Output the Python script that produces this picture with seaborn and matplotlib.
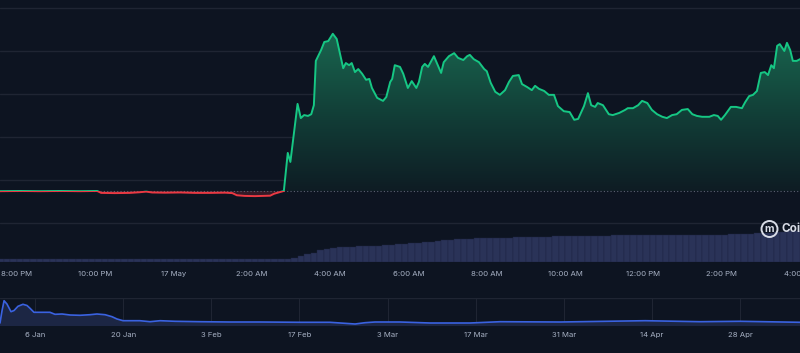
import numpy as np
import pandas as pd
import matplotlib
matplotlib.use("Agg")
import matplotlib.pyplot as plt
import matplotlib.dates as mdates
from matplotlib.patches import Rectangle, Ellipse
import seaborn as sns

# ---------------------------------------------------------------
# Data
# ---------------------------------------------------------------
price_time = [
    "2025-05-16 19:34", "2025-05-16 20:05", "2025-05-16 20:35", "2025-05-16 21:06",
    "2025-05-16 21:37", "2025-05-16 22:03", "2025-05-16 22:09", "2025-05-16 22:30",
    "2025-05-16 22:53", "2025-05-16 23:08", "2025-05-16 23:18", "2025-05-16 23:27",
    "2025-05-16 23:47", "2025-05-17 00:10", "2025-05-17 00:33", "2025-05-17 00:56",
    "2025-05-17 01:19", "2025-05-17 01:30", "2025-05-17 01:37", "2025-05-17 01:49",
    "2025-05-17 02:05", "2025-05-17 02:20", "2025-05-17 02:28", "2025-05-17 02:34",
    "2025-05-17 02:43", "2025-05-17 02:49", "2025-05-17 02:55", "2025-05-17 02:59",
    "2025-05-17 03:10", "2025-05-17 03:15", "2025-05-17 03:20", "2025-05-17 03:26",
    "2025-05-17 03:31", "2025-05-17 03:35", "2025-05-17 03:38", "2025-05-17 03:46",
    "2025-05-17 03:51", "2025-05-17 03:57", "2025-05-17 04:04", "2025-05-17 04:10",
    "2025-05-17 04:20", "2025-05-17 04:24", "2025-05-17 04:29", "2025-05-17 04:33",
    "2025-05-17 04:38", "2025-05-17 04:43", "2025-05-17 04:49", "2025-05-17 04:55",
    "2025-05-17 05:00", "2025-05-17 05:04", "2025-05-17 05:12", "2025-05-17 05:21",
    "2025-05-17 05:26", "2025-05-17 05:32", "2025-05-17 05:35", "2025-05-17 05:39",
    "2025-05-17 05:47", "2025-05-17 05:52", "2025-05-17 05:59", "2025-05-17 06:05",
    "2025-05-17 06:12", "2025-05-17 06:16", "2025-05-17 06:21", "2025-05-17 06:25",
    "2025-05-17 06:30", "2025-05-17 06:39", "2025-05-17 06:50", "2025-05-17 06:54",
    "2025-05-17 07:02", "2025-05-17 07:10", "2025-05-17 07:16", "2025-05-17 07:24",
    "2025-05-17 07:30", "2025-05-17 07:34", "2025-05-17 07:40", "2025-05-17 07:48",
    "2025-05-17 07:56", "2025-05-17 08:00", "2025-05-17 08:06", "2025-05-17 08:13",
    "2025-05-17 08:20", "2025-05-17 08:28", "2025-05-17 08:34", "2025-05-17 08:40",
    "2025-05-17 08:49", "2025-05-17 08:54", "2025-05-17 09:02", "2025-05-17 09:09",
    "2025-05-17 09:14", "2025-05-17 09:20", "2025-05-17 09:28", "2025-05-17 09:35",
    "2025-05-17 09:43", "2025-05-17 09:49", "2025-05-17 09:58", "2025-05-17 10:07",
    "2025-05-17 10:14", "2025-05-17 10:20", "2025-05-17 10:29", "2025-05-17 10:35",
    "2025-05-17 10:40", "2025-05-17 10:46", "2025-05-17 10:50", "2025-05-17 10:58",
    "2025-05-17 11:07", "2025-05-17 11:13", "2025-05-17 11:23", "2025-05-17 11:32",
    "2025-05-17 11:36", "2025-05-17 11:44", "2025-05-17 11:52", "2025-05-17 11:58",
    "2025-05-17 12:06", "2025-05-17 12:13", "2025-05-17 12:21", "2025-05-17 12:29",
    "2025-05-17 12:36", "2025-05-17 12:44", "2025-05-17 12:51", "2025-05-17 12:59",
    "2025-05-17 13:08", "2025-05-17 13:15", "2025-05-17 13:22", "2025-05-17 13:30",
    "2025-05-17 13:41", "2025-05-17 13:48", "2025-05-17 13:54", "2025-05-17 13:59",
    "2025-05-17 14:05", "2025-05-17 14:14", "2025-05-17 14:22", "2025-05-17 14:31",
    "2025-05-17 14:36", "2025-05-17 14:42", "2025-05-17 14:48", "2025-05-17 14:54",
    "2025-05-17 15:00", "2025-05-17 15:06", "2025-05-17 15:11", "2025-05-17 15:16",
    "2025-05-17 15:20", "2025-05-17 15:25", "2025-05-17 15:29", "2025-05-17 15:36",
    "2025-05-17 15:40", "2025-05-17 15:45", "2025-05-17 15:49", "2025-05-17 15:55",
    "2025-05-17 16:00",
]
price = [
    7.40, 7.45, 7.40, 7.45, 7.40, 7.45, 7.00, 6.95, 7.00, 7.15, 7.30, 7.10,
    7.05, 7.10, 7.00, 7.00, 7.05, 6.95, 6.45, 6.30, 6.25, 6.30, 6.35, 6.80,
    7.20, 7.45, 16.3, 14.2, 27.7, 24.4, 25.1, 24.9, 25.3, 27.4, 37.7, 40.2,
    42.1, 42.3, 44.0, 42.8, 36.0, 37.2, 36.7, 37.2, 35.1, 35.8, 34.7, 33.3,
    33.5, 31.4, 29.1, 28.4, 29.3, 32.8, 33.5, 36.7, 36.3, 34.7, 31.4, 33.0,
    31.4, 32.8, 36.3, 37.0, 36.3, 38.8, 34.9, 37.4, 38.8, 39.5, 38.4, 37.9,
    38.8, 39.1, 38.1, 37.4, 35.8, 35.3, 32.6, 30.5, 29.8, 30.9, 32.8, 34.2,
    34.4, 32.3, 31.6, 30.9, 31.9, 31.2, 30.7, 29.8, 29.8, 27.2, 26.0, 25.8,
    24.0, 24.2, 27.2, 30.2, 27.4, 27.0, 27.9, 27.4, 25.3, 25.1, 25.6, 26.3,
    26.7, 26.7, 27.4, 28.4, 27.9, 26.3, 25.3, 24.7, 24.4, 25.1, 25.3, 26.3,
    26.5, 25.3, 24.9, 24.7, 24.7, 25.1, 24.9, 24.0, 25.1, 27.0, 27.0, 26.7,
    28.1, 29.5, 29.8, 30.7, 34.9, 35.1, 34.4, 36.7, 36.0, 41.2, 41.6, 40.0,
    41.9, 40.2, 37.7, 37.7, 38.1,
]
open_price = 7.44
price_ticks = [0, 10, 20, 30, 40, 50]

# volume, one bar per 10 minutes starting 19:30
volume = [
    29, 29, 29, 30, 30, 30, 30, 30, 30, 30, 30, 30, 30, 30, 30, 30, 30, 30, 30, 30,
    30, 30, 30, 30, 30, 30, 30, 30, 30, 30, 30, 31, 31, 31, 31, 31, 31, 31, 31, 31,
    31, 31, 31, 31, 32,
    45, 65, 80, 95, 120, 135, 145, 150, 152, 155, 156, 158, 160, 163, 166, 170,
    176, 183, 190, 195, 200, 205, 212, 218, 225, 228, 232, 235, 237, 239, 240,
    241, 243, 245, 247, 249, 250, 252, 253, 255, 257, 259, 260, 261, 262, 263,
    264, 265, 265, 267, 268, 270, 270, 270, 270, 271, 271, 271, 272, 272, 272,
    272, 273, 273, 274, 274, 275, 276, 278, 280, 283, 287, 290, 294, 298, 302,
    306, 310,
]
volume_start = "2025-05-16 19:30"

main_ticks = ["2025-05-16 20:00", "2025-05-16 22:00", "2025-05-17 00:00",
              "2025-05-17 02:00", "2025-05-17 04:00", "2025-05-17 06:00",
              "2025-05-17 08:00", "2025-05-17 10:00", "2025-05-17 12:00",
              "2025-05-17 14:00", "2025-05-17 16:00"]
main_tick_labels = ["8:00 PM", "10:00 PM", "17 May", "2:00 AM", "4:00 AM", "6:00 AM",
                    "8:00 AM", "10:00 AM", "12:00 PM", "2:00 PM", "4:00 PM"]

nav_time = [
    "2024-12-31 10:30", "2024-12-31 18:00", "2025-01-01 02:00", "2025-01-01 13:00",
    "2025-01-02 04:30", "2025-01-02 16:00", "2025-01-03 07:00", "2025-01-04 02:00",
    "2025-01-04 17:30", "2025-01-05 05:00", "2025-01-05 20:00", "2025-01-06 19:00",
    "2025-01-08 09:00", "2025-01-09 04:00", "2025-01-10 07:00", "2025-01-11 13:30",
    "2025-01-13 03:30", "2025-01-14 18:00", "2025-01-15 20:00", "2025-01-17 03:00",
    "2025-01-18 05:30", "2025-01-19 00:30", "2025-01-19 23:30", "2025-01-22 16:00",
    "2025-01-24 06:30", "2025-01-25 20:30", "2025-01-28 06:00", "2025-02-01 05:00",
    "2025-02-05 23:30", "2025-02-10 18:00", "2025-02-17 02:30", "2025-02-21 20:30",
    "2025-02-25 20:00", "2025-02-27 10:00", "2025-03-01 00:00", "2025-03-04 23:30",
    "2025-03-09 18:00", "2025-03-16 02:30", "2025-03-20 21:00", "2025-03-30 09:30",
    "2025-04-12 21:30", "2025-04-21 14:30", "2025-04-28 00:00", "2025-05-07 12:00",
]
nav_price = [
    3.0, 15.0, 25.3, 22.0, 14.3, 15.5, 19.7, 21.7, 20.5, 17.7, 13.7, 13.7,
    13.7, 11.7, 12.0, 11.0, 10.7, 11.3, 12.0, 11.3, 9.3, 7.0, 5.3, 5.3,
    4.3, 5.3, 4.7, 4.3, 4.0, 4.0, 3.7, 3.7, 2.0, 3.3, 4.0, 4.0,
    3.0, 3.0, 4.3, 4.0, 5.3, 4.3, 4.7, 3.7,
]
nav_ticks = ["2025-01-06", "2025-01-20", "2025-02-03", "2025-02-17", "2025-03-03",
             "2025-03-17", "2025-03-31", "2025-04-14", "2025-04-28"]
nav_tick_labels = ["6 Jan", "20 Jan", "3 Feb", "17 Feb", "3 Mar",
                   "17 Mar", "31 Mar", "14 Apr", "28 Apr"]

# ---------------------------------------------------------------
# Colours
# ---------------------------------------------------------------
BG = "#0d1421"
GRID = "#1f2533"
GREEN = "#16c784"
RED = "#ea3943"
VOL = "#2a3358"
VOL_EDGE = "#1d2440"
NAV_LINE = "#3a62e0"
NAV_FILL = "#1c2644"
TXT = "#a6b0c3"

sns.set_theme(style="dark")
plt.rcParams["font.family"] = ["Inter", "DejaVu Sans"]

df = pd.DataFrame({"time": pd.to_datetime(price_time), "price": price})
vol_df = pd.DataFrame({"time": pd.date_range(volume_start, periods=len(volume), freq="10min"),
                       "volume": volume})
nav = pd.DataFrame({"time": pd.to_datetime(nav_time), "price": nav_price})

fig = plt.figure(figsize=(8.0, 3.53), dpi=100, facecolor=BG)
W, H = 800, 353

# ---- main price axes ----
ax = fig.add_axes([0, 1 - 262 / H, 1, 262 / H])
ax.set_facecolor(BG)
ax_vol = ax.twinx()
ax.set_zorder(ax_vol.get_zorder() + 1)
ax.patch.set_visible(False)
ax_vol.set_facecolor(BG)

# volume bars (behind)
ax_vol.bar(vol_df["time"], vol_df["volume"], width=pd.Timedelta(minutes=10), align="edge",
           color=VOL, edgecolor=VOL_EDGE, linewidth=0.3)
ax_vol.set_ylim(0, 2620)
ax_vol.set_yticks([])
ax_vol.grid(False)

xmin, xmax = df["time"].iloc[0], df["time"].iloc[-1]
ylo, yhi = -9.07, 51.86

# green gradient fill above open price (one polygon, clipped image)
t_num = mdates.date2num(df["time"])
p = np.asarray(price)
poly = ax.fill_between(t_num, np.maximum(p, open_price), open_price,
                       color="none", linewidth=0)
grad = np.linspace(0.0, 1.0, 256).reshape(-1, 1)
cmap = matplotlib.colors.LinearSegmentedColormap.from_list(
    "g", [(0.055, 0.11, 0.14, 1.0), (0.07, 0.25, 0.22, 1.0), (0.10, 0.40, 0.31, 1.0)])
img = ax.imshow(grad, cmap=cmap, aspect="auto", origin="lower",
                extent=[t_num[0], t_num[-1], open_price, max(price)], zorder=1)
img.set_clip_path(poly.get_paths()[0], transform=ax.transData)

# faint red fill below open
ax.fill_between(t_num, np.minimum(p, open_price), open_price,
                color=RED, alpha=0.18, linewidth=0, zorder=1)

# dotted open-price line
ax.axhline(open_price, color="#5b6272", linestyle=(0, (1, 2)), linewidth=0.8, zorder=2)

# price line: green above open, red below (clip each copy)
sns.lineplot(data=df, x="time", y="price", ax=ax, color=GREEN, linewidth=1.4, zorder=3)
sns.lineplot(data=df, x="time", y="price", ax=ax, color=RED, linewidth=1.4, zorder=4)
lines = ax.get_lines()
above = Rectangle((t_num[0], open_price), t_num[-1] - t_num[0], 100, transform=ax.transData)
below = Rectangle((t_num[0], -100), t_num[-1] - t_num[0], 100 + open_price, transform=ax.transData)
lines[-2].set_clip_path(above)
lines[-1].set_clip_path(below)

ax.set_xlim(xmin, xmax)
ax.set_ylim(ylo, yhi)
ax.set_yticks(price_ticks)
ax.yaxis.grid(True, color=GRID, linewidth=1.0)
ax.xaxis.grid(False)
ax.tick_params(axis="y", left=False, labelleft=False, length=0)
ax.set_xticks(pd.to_datetime(main_ticks))
ax.set_xticklabels(main_tick_labels, color=TXT, fontsize=5.6)
ax.tick_params(axis="x", bottom=False, length=0, pad=6.5)
ax.set_xlabel("")
ax.set_ylabel("")
for a in (ax, ax_vol):
    for s in a.spines.values():
        s.set_visible(False)

# watermark
fig.add_artist(Ellipse((769.5 / W, 1 - 229 / H), 16 / W, 16 / H, transform=fig.transFigure,
                       facecolor="none", edgecolor="#d8dce6", linewidth=1.4, zorder=10))
fig.text(769.5 / W, 1 - 229.5 / H, "m", color="#d8dce6", fontsize=7.5, fontweight="bold",
         ha="center", va="center")
fig.text(782 / W, 1 - 229 / H, "CoinMarketCap", color="#d8dce6", fontsize=8.5,
         fontweight="bold", ha="left", va="center")

# ---- navigator ----
axn = fig.add_axes([0, 1 - 326 / H, 1, 28 / H])
axn.set_facecolor(BG)
axn.fill_between(nav["time"], nav["price"], 0, color=NAV_FILL, linewidth=0)
sns.lineplot(data=nav, x="time", y="price", ax=axn, color=NAV_LINE, linewidth=1.2)
axn.set_xlim(nav["time"].iloc[0], nav["time"].iloc[-1])
axn.set_ylim(0, 28)
axn.set_yticks([])
axn.set_xticks(pd.to_datetime(nav_ticks))
axn.set_xticklabels(nav_tick_labels, color=TXT, fontsize=5.6)
axn.tick_params(axis="x", bottom=False, length=0, pad=4.5)
axn.xaxis.grid(True, color=GRID, linewidth=0.8)
axn.yaxis.grid(False)
axn.axhline(28, color=GRID, linewidth=1.0)
axn.set_xlabel("")
axn.set_ylabel("")
for s in axn.spines.values():
    s.set_visible(False)

fig.savefig("out.png", dpi=100, facecolor=BG)
